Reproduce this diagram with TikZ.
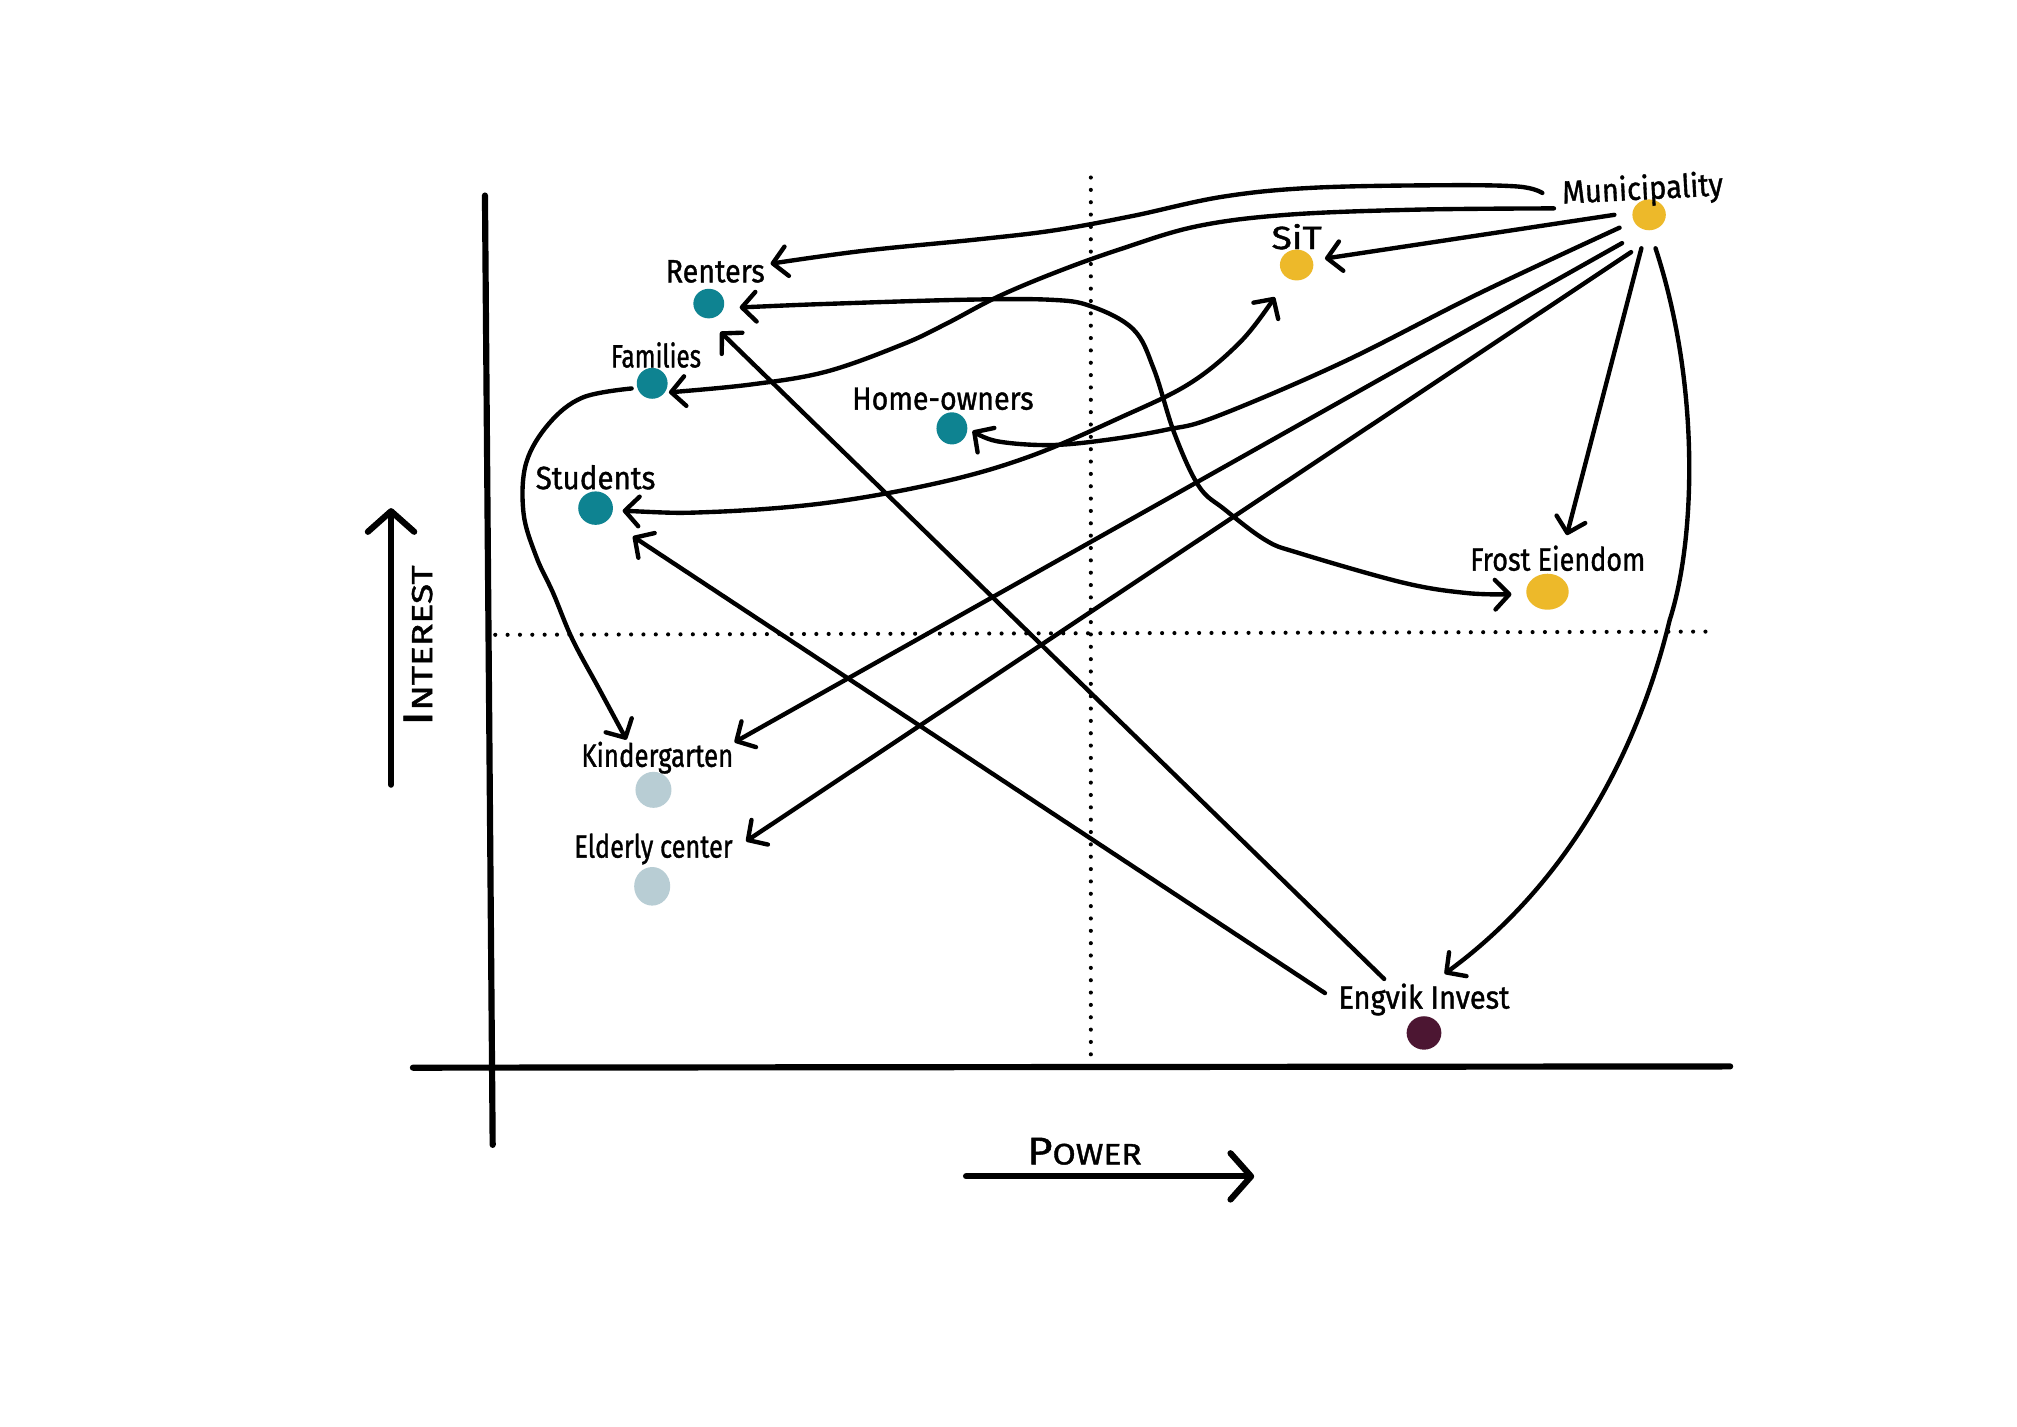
\documentclass[tikz,border=0pt]{standalone}
\usepackage{fontspec}
\setmainfont{Fira Sans}[UprightFeatures={FakeBold=1.2}]
\usetikzlibrary{arrows.meta,shapes.geometric}
\definecolor{ylw}{HTML}{EDB92A}
\definecolor{tealdot}{HTML}{0E8391}
\definecolor{paledot}{HTML}{B8CDD4}
\definecolor{winedot}{HTML}{4C1632}
\newcommand\lbl[2]{\resizebox{#1}{\height}{#2}}
\tikzset{
  conn/.style={line width=3.4pt, line cap=round, line join=round, draw=black},
  tipE/.style={-{Straight Barb[length=11pt,width=23pt,round]}},
  tipB/.style={{Straight Barb[length=11pt,width=23pt,round]}-{Straight Barb[length=11pt,width=23pt,round]}},
  axisline/.style={line width=4.8pt, line cap=round, draw=black},
  bigarrow/.style={line width=4.8pt, line cap=round, draw=black, -{Straight Barb[length=16pt,width=36pt,round]}},
  dotline/.style={line width=3.2pt, line cap=round, dash pattern=on 0pt off 9.6pt, draw=black},
  dot/.style={ellipse, draw=none, inner sep=0pt},
  lab/.style={inner sep=0pt, font=\fontsize{25}{27}\selectfont, text=black}
}
\begin{document}
\begin{tikzpicture}[x=1pt,y=-1pt]
\fill[white] (0,0) rectangle (1568,1109);
\useasboundingbox (0,0) rectangle (1568,1109);

% axes
\coordinate (ytop) at (377,152);
\coordinate (ybot) at (383,890);
\coordinate (xleft) at (321,830);
\coordinate (xright) at (1345,829);
\draw[axisline] (ytop) -- (ybot);
\draw[axisline] (xleft) -- (xright);

% quadrant dotted lines
\coordinate (vdtop) at (848,138);
\coordinate (vdbot) at (848,822);
\coordinate (hdl) at (385,493.5);
\coordinate (hdr) at (1330,491);
\draw[dotline] (vdtop) -- (vdbot);
\draw[dotline] (hdl) -- (hdr);

% axis arrows
\coordinate (ia) at (304,610);
\coordinate (ib) at (304,395);
\draw[bigarrow] (ia) -- (ib);
\coordinate (pa) at (751,914.5);
\coordinate (pb) at (975,914.5);
\draw[bigarrow] (pa) -- (pb);
\node[lab, rotate=90] (interest) at (325,502) {\lbl{125pt}{{\fontsize{32}{32}\selectfont I}{\fontsize{22.5}{24}\selectfont NTEREST}}};
\node[lab] (power) at (843,895) {\lbl{89pt}{{\fontsize{30}{30}\selectfont P}{\fontsize{23}{24}\selectfont OWER}}};

% dots
\node[dot, fill=ylw, minimum width=26pt, minimum height=24pt] (mun) at (1282,167) {};
\node[dot, fill=ylw, minimum width=26pt, minimum height=24pt] (sit) at (1008,206) {};
\node[dot, fill=tealdot, minimum width=24pt, minimum height=23pt] (ren) at (551,236) {};
\node[dot, fill=tealdot, minimum width=24pt, minimum height=24pt] (fam) at (507,298) {};
\node[dot, fill=tealdot, minimum width=24pt, minimum height=25pt] (hom) at (740,333) {};
\node[dot, fill=tealdot, minimum width=27pt, minimum height=26pt] (stu) at (463,395) {};
\node[dot, fill=ylw, minimum width=33pt, minimum height=28pt] (fro) at (1203,460) {};
\node[dot, fill=paledot, minimum width=28pt, minimum height=28pt] (kin) at (508,614) {};
\node[dot, fill=paledot, minimum width=28pt, minimum height=30pt] (eld) at (507,689) {};
\node[dot, fill=winedot, minimum width=27pt, minimum height=26pt] (eng) at (1107,803) {};

% labels
\node[lab, rotate=3] (munL) at (1277,148) {\lbl{125pt}{Municipality}};
\node[lab] (sitL) at (1008,184) {\lbl{39pt}{SiT}};
\node[lab] (renL) at (556,211) {\lbl{77pt}{Renters}};
\node[lab] (famL) at (510,276) {\lbl{70pt}{Families}};
\node[lab] (homL) at (733,310) {\lbl{141pt}{Home-owners}};
\node[lab] (stuL) at (463,371) {\lbl{93pt}{Students}};
\node[lab] (froL) at (1211,434) {\lbl{136pt}{Frost Eiendom}};
\node[lab] (kinL) at (511,589) {\lbl{118pt}{Kindergarten}};
\node[lab] (eldL) at (508,660) {\lbl{123pt}{Elderly center}};
\node[lab] (engL) at (1107,777) {\lbl{133pt}{Engvik Invest}};

% connector end points
\coordinate (m1) at (1199,150);
\coordinate (r1) at (599,205);
\coordinate (m2) at (1208,162);
\coordinate (f1) at (520,305);
\coordinate (m3) at (1255,167);
\coordinate (s1) at (1030,201);
\coordinate (m4) at (1259,177);
\coordinate (h1) at (756,335);
\coordinate (m5) at (1261,189);
\coordinate (k1) at (571,577);
\coordinate (m6) at (1268,196);
\coordinate (e1) at (580,654);
\coordinate (m7) at (1276,193);
\coordinate (fr1) at (1218,416);
\coordinate (m8) at (1287,193);
\coordinate (en1) at (1123,757);
\coordinate (en2) at (1076,761);
\coordinate (r2) at (560,258);
\coordinate (en3) at (1030,772);
\coordinate (st1) at (492,417);
\coordinate (f2) at (491,302);
\coordinate (k2) at (487,575);
\coordinate (st2) at (484,397);
\coordinate (s2) at (991,231);
\coordinate (r3) at (575,239);
\coordinate (fr2) at (1175,462);

% connectors
\draw[conn, tipE] plot[smooth, tension=0.6] coordinates {(m1) (1180,145) (1120,144) (1020,146) (950,153) (880,168) (820,179) (761,186) (671,195) (r1)};
\draw[conn, tipE] plot[smooth, tension=0.6] coordinates {(m2) (1100,163) (1000,167) (930,176) (870,194) (820,212) (775,231) (735,252) (701,268) (642,289) (583,299) (f1)};
\draw[conn, tipE] (m3) -- (s1);
\draw[conn, tipE] plot[smooth, tension=0.6] coordinates {(m4) (1150,228) (1043,282) (945,324) (907,334) (860,342) (816,346) (775,343) (h1)};
\draw[conn, tipE] (m5) -- (k1);
\draw[conn, tipE] (m6) -- (e1);
\draw[conn, tipE] (m7) -- (fr1);
\draw[conn, tipE] (m8) .. controls (1322,300) and (1318,420) .. (1298,482) .. controls (1272,590) and (1215,690) .. (en1);
\draw[conn, tipE] (en2) -- (r2);
\draw[conn, tipE] (en3) -- (st1);
\draw[conn, tipE] plot[smooth, tension=0.6] coordinates {(f2) (453,309) (427,329) (409,360) (407,399) (417,433) (430,461) (445,497) (466,536) (k2)};
\draw[conn, tipB] plot[smooth, tension=0.6] coordinates {(st2) (553,398) (642,391) (731,375) (800,355) (870,325) (925,298) (965,265) (s2)};
\draw[conn, tipB] plot[smooth, tension=0.6] coordinates {(r3) (650,236) (750,233) (816,233) (848,238) (881,256) (897,287) (913,337) (932,378) (952,396) (984,420) (1010,430) (1091,453) (1140,461) (fr2)};
\end{tikzpicture}
\end{document}
